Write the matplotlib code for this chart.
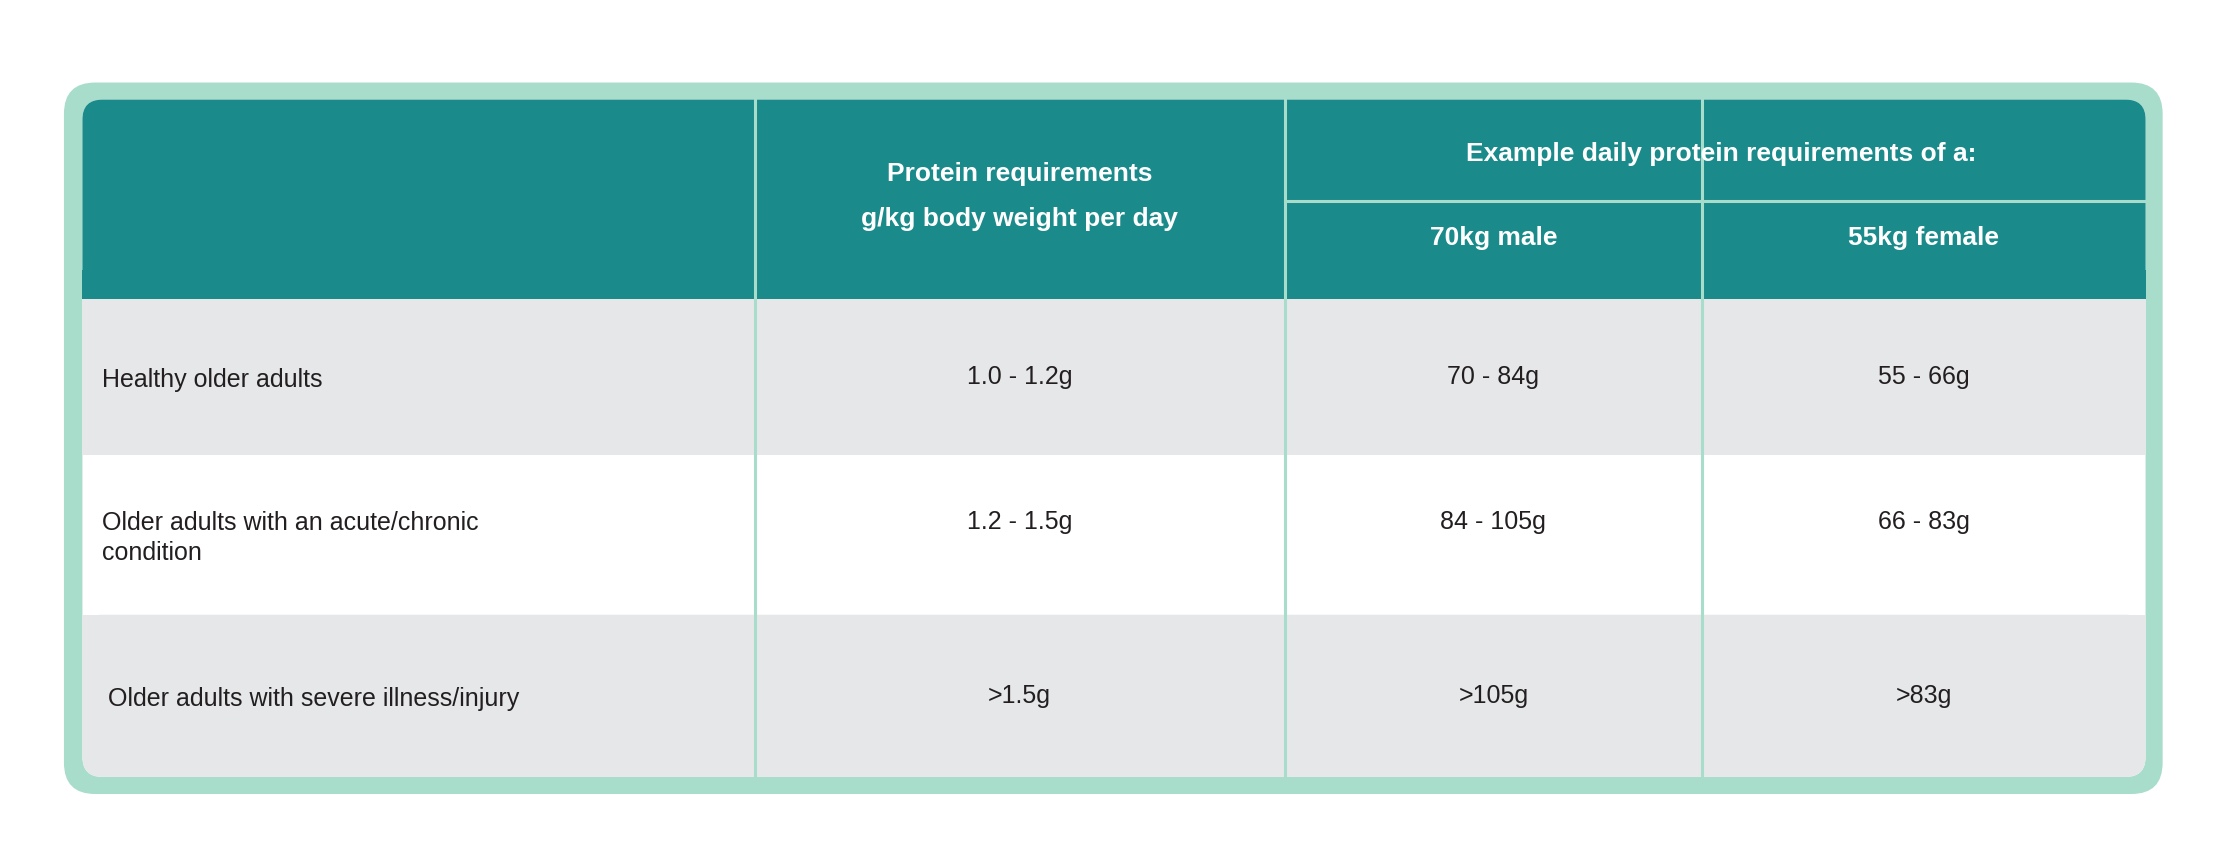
import matplotlib.pyplot as plt
from matplotlib.patches import FancyBboxPatch, Rectangle

groups = ["Healthy older adults",
          "Older adults with an acute/chronic\ncondition",
          "Older adults with severe illness/injury"]
per_kg = ["1.0 - 1.2g", "1.2 - 1.5g", ">1.5g"]
male_70 = ["70 - 84g", "84 - 105g", ">105g"]
female_55 = ["55 - 66g", "66 - 83g", ">83g"]
head_1 = "Protein requirements\ng/kg body weight per day"
head_2 = "Example daily protein requirements of a:"
sub_heads = ["70kg male", "55kg female"]

TEAL = "#1a8a8a"
MINT = "#a8dccb"
GREY = "#e6e7e9"
TXT = "#231f20"

W, H = 1568, 610
fig = plt.figure(figsize=(22.28, 8.68), dpi=100)
ax = fig.add_axes([0, 0, 1, 1])
ax.set_xlim(0, W)
ax.set_ylim(H, 0)
ax.axis("off")

# outer mint frame and inner box
ax.add_patch(FancyBboxPatch((45, 58), 1477, 500, boxstyle="round,pad=0,rounding_size=22",
                            fc=MINT, ec="none"))
x0, x1 = 58, 1510
cols = [x0, 531, 904, 1198, x1]
row_y = [70, 210, 320, 432, 546]
ax.add_patch(FancyBboxPatch((x0, 70), x1 - x0, 476, boxstyle="round,pad=0,rounding_size=14",
                            fc="white", ec="none"))
# header
ax.add_patch(FancyBboxPatch((x0, 70), x1 - x0, 150, boxstyle="round,pad=0,rounding_size=14",
                            fc=TEAL, ec="none"))
ax.add_patch(Rectangle((x0, 190), x1 - x0, 20, fc=TEAL, ec="none"))
# grey rows
ax.add_patch(Rectangle((x0, row_y[1]), x1 - x0, row_y[2] - row_y[1], fc=GREY, ec="none"))
ax.add_patch(FancyBboxPatch((x0, row_y[3]), x1 - x0, row_y[4] - row_y[3],
                            boxstyle="round,pad=0,rounding_size=14", fc=GREY, ec="none"))
ax.add_patch(Rectangle((x0, row_y[3]), x1 - x0, 30, fc=GREY, ec="none"))

# grid lines
for x in cols[1:4]:
    ax.plot([x, x], [70, 546], color=MINT, lw=2.2)
ax.plot([cols[2], x1], [141, 141], color=MINT, lw=2.2)

hk = dict(color="white", fontsize=19, fontweight="bold", family="Liberation Sans",
          ha="center", va="center")
ax.text((cols[1] + cols[2]) / 2, 138, head_1, linespacing=2.1, **hk)
ax.text((cols[2] + x1) / 2 + 4, 108, head_2, **hk)
ax.text((cols[2] + cols[3]) / 2, 167, sub_heads[0], **hk)
ax.text((cols[3] + x1) / 2, 167, sub_heads[1], **hk)

bk = dict(color=TXT, fontsize=18, family="Liberation Sans", va="center")
for i in range(3):
    yc = (row_y[i + 1] + row_y[i + 2]) / 2
    xl = 72 if i < 2 else 76
    ax.text(xl, yc + 2, groups[i], ha="left", linespacing=1.35, **bk)
    yv = yc if i != 1 else yc - 9
    ax.text((cols[1] + cols[2]) / 2, yv, per_kg[i], ha="center", **bk)
    ax.text((cols[2] + cols[3]) / 2, yv, male_70[i], ha="center", **bk)
    ax.text((cols[3] + x1) / 2, yv, female_55[i], ha="center", **bk)

fig.savefig("out.png", dpi=100)
